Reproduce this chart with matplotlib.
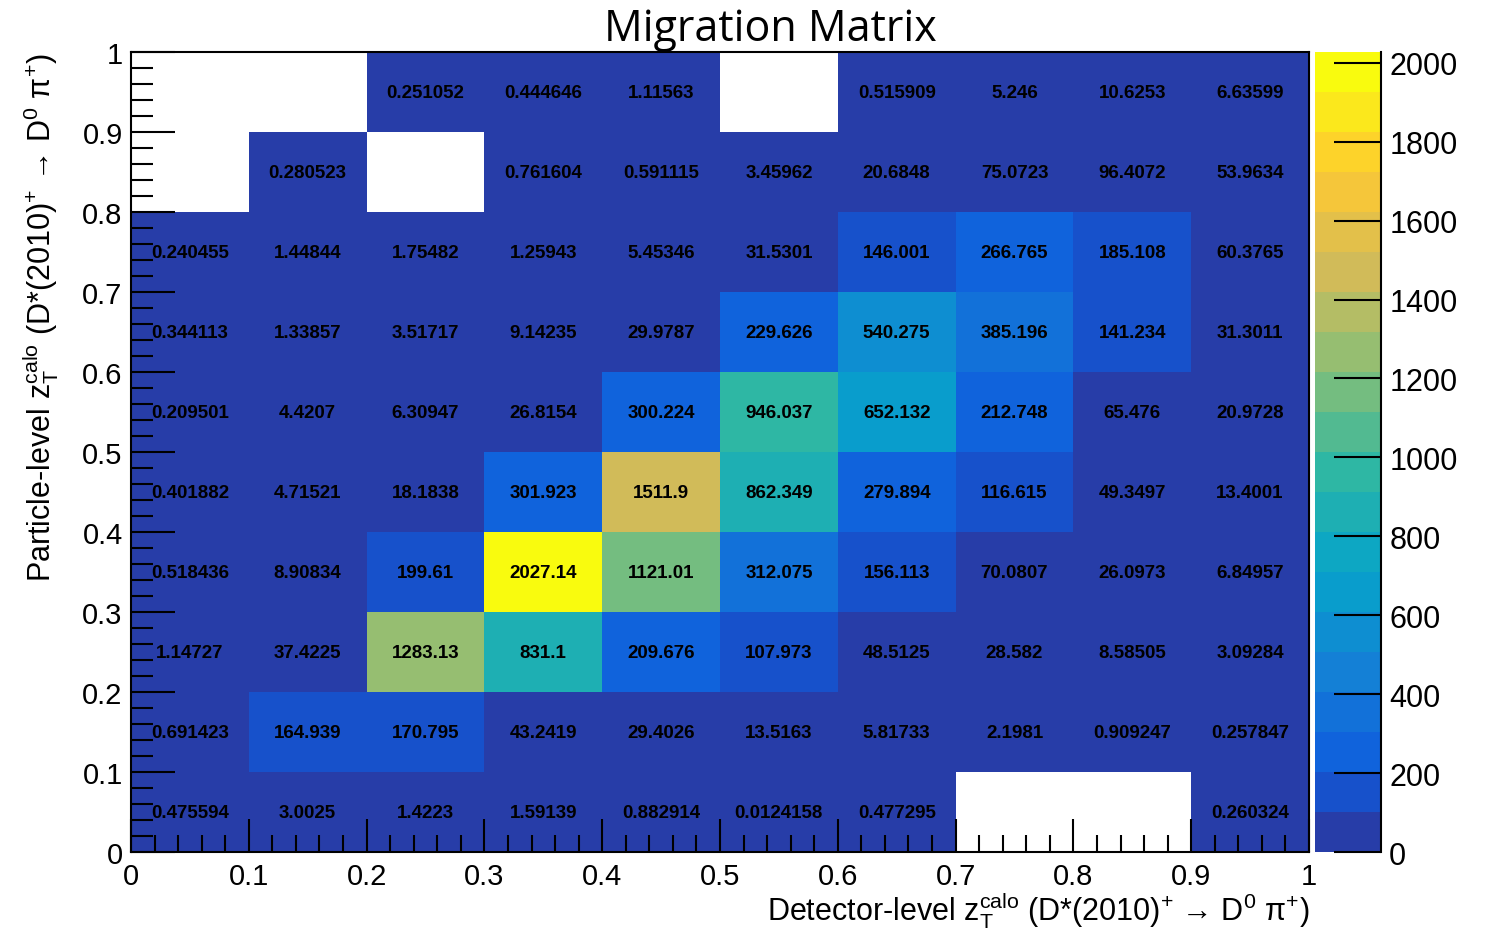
import numpy as np
import matplotlib.pyplot as plt
from matplotlib.colors import ListedColormap, BoundaryNorm
from matplotlib.ticker import MultipleLocator

plt.rcParams['font.family'] = ['Liberation Sans', 'DejaVu Sans']
plt.rcParams['mathtext.fontset'] = 'custom'
plt.rcParams['mathtext.rm'] = 'Liberation Sans'
plt.rcParams['mathtext.it'] = 'Liberation Sans:italic'
plt.rcParams['mathtext.bf'] = 'Liberation Sans:bold'

# bin edges (detector-level on x, particle-level on y)
x_edges = [0.0, 0.1, 0.2, 0.3, 0.4, 0.5, 0.6, 0.7, 0.8, 0.9, 1.0]
y_edges = [0.0, 0.1, 0.2, 0.3, 0.4, 0.5, 0.6, 0.7, 0.8, 0.9, 1.0]

nan = np.nan
# one list per particle-level row, bottom to top
row_00 = [0.475594, 3.0025, 1.4223, 1.59139, 0.882914, 0.0124158, 0.477295, nan, nan, 0.260324]
row_01 = [0.691423, 164.939, 170.795, 43.2419, 29.4026, 13.5163, 5.81733, 2.1981, 0.909247, 0.257847]
row_02 = [1.14727, 37.4225, 1283.13, 831.1, 209.676, 107.973, 48.5125, 28.582, 8.58505, 3.09284]
row_03 = [0.518436, 8.90834, 199.61, 2027.14, 1121.01, 312.075, 156.113, 70.0807, 26.0973, 6.84957]
row_04 = [0.401882, 4.71521, 18.1838, 301.923, 1511.9, 862.349, 279.894, 116.615, 49.3497, 13.4001]
row_05 = [0.209501, 4.4207, 6.30947, 26.8154, 300.224, 946.037, 652.132, 212.748, 65.476, 20.9728]
row_06 = [0.344113, 1.33857, 3.51717, 9.14235, 29.9787, 229.626, 540.275, 385.196, 141.234, 31.3011]
row_07 = [0.240455, 1.44844, 1.75482, 1.25943, 5.45346, 31.5301, 146.001, 266.765, 185.108, 60.3765]
row_08 = [nan, 0.280523, nan, 0.761604, 0.591115, 3.45962, 20.6848, 75.0723, 96.4072, 53.9634]
row_09 = [nan, nan, 0.251052, 0.444646, 1.11563, nan, 0.515909, 5.246, 10.6253, 6.63599]

cbar_ticks = [0, 200, 400, 600, 800, 1000, 1200, 1400, 1600, 1800, 2000]

values = np.array([row_00, row_01, row_02, row_03, row_04,
                   row_05, row_06, row_07, row_08, row_09])
data = np.ma.masked_invalid(values)
zmax = np.nanmax(values)

# ROOT kBird palette, 255 colours, 20 contour levels
stops = [0.0, 0.125, 0.25, 0.375, 0.5, 0.625, 0.75, 0.875, 1.0]
red = [0.2082, 0.0592, 0.0780, 0.0232, 0.1802, 0.5301, 0.8186, 0.9956, 0.9764]
green = [0.1664, 0.3599, 0.5041, 0.6419, 0.7178, 0.7492, 0.7328, 0.7862, 0.9832]
blue = [0.5293, 0.8684, 0.8385, 0.7914, 0.6425, 0.4662, 0.3499, 0.1968, 0.0539]
ncol = 255
ncont = 20
level_colors = []
for i in range(ncont):
    idx = min(int((i + 0.99) * ncol / ncont), ncol - 1)
    f = idx / (ncol - 1)
    level_colors.append((np.interp(f, stops, red), np.interp(f, stops, green), np.interp(f, stops, blue)))
cmap = ListedColormap(level_colors)
bounds = np.linspace(0, zmax, ncont + 1)
norm = BoundaryNorm(bounds, ncont)

fig = plt.figure(figsize=(14.85, 9.29), dpi=100)
ax = fig.add_axes([0.0882, 0.0818, 0.7933, 0.8611])
mesh = ax.pcolormesh(x_edges, y_edges, data, cmap=cmap, norm=norm)

# bin contents as text
for j in range(len(y_edges) - 1):
    for i in range(len(x_edges) - 1):
        v = values[j, i]
        if np.isnan(v):
            continue
        xc = 0.5 * (x_edges[i] + x_edges[i + 1])
        yc = 0.5 * (y_edges[j] + y_edges[j + 1])
        ax.text(xc, yc, f'{v:g}', ha='center', va='center', fontsize=13.5,
                fontweight='bold', color='black')

ax.set_xlim(0, 1)
ax.set_ylim(0, 1)
ax.xaxis.set_major_locator(MultipleLocator(0.1))
ax.xaxis.set_minor_locator(MultipleLocator(0.02))
ax.yaxis.set_major_locator(MultipleLocator(0.1))
ax.yaxis.set_minor_locator(MultipleLocator(0.02))
ax.xaxis.set_major_formatter(plt.FuncFormatter(lambda v, p: f'{v:g}'))
ax.yaxis.set_major_formatter(plt.FuncFormatter(lambda v, p: f'{v:g}'))
ax.tick_params(axis='x', which='major', direction='in', length=24, width=1.5, labelsize=21, pad=7)
ax.tick_params(axis='x', which='minor', direction='in', length=12, width=1.5)
ax.tick_params(axis='y', which='major', direction='in', length=32, width=1.5, labelsize=21, pad=6)
ax.tick_params(axis='y', which='minor', direction='in', length=16, width=1.5)
for s in ax.spines.values():
    s.set_linewidth(1.5)

tail = r' (D*(2010)$^{+}$ → D$^{0}$ π$^{+}$)'
ax.set_xlabel(r'Detector-level z$_{\mathrm{T}}^{\mathrm{calo}}$' + tail,
              fontsize=22, loc='right', labelpad=0)
ax.set_ylabel(r'Particle-level z$_{\mathrm{T}}^{\mathrm{calo}}$' + tail,
              fontsize=22, loc='top', labelpad=15)

fig.text(0.5185, 0.968, 'Migration Matrix', ha='center', va='center', fontsize=31,
         family=['Open Sans', 'DejaVu Sans'])

# colour scale
cax = fig.add_axes([0.8855, 0.0818, 0.0444, 0.8611])
cbar = fig.colorbar(mesh, cax=cax, spacing='proportional', ticks=cbar_ticks)
cbar.outline.set_visible(False)
cax.set_ylim(0, zmax)
cax.tick_params(axis='y', which='major', direction='in', length=34, width=1.5, labelsize=22, pad=6,
                right=True, left=False)
cax.tick_params(axis='y', which='minor', right=False, left=False)
cax.plot([1, 1], [0, zmax], color='black', lw=1.5, clip_on=False, transform=cax.get_yaxis_transform())

fig.savefig('out.png', dpi=100)
